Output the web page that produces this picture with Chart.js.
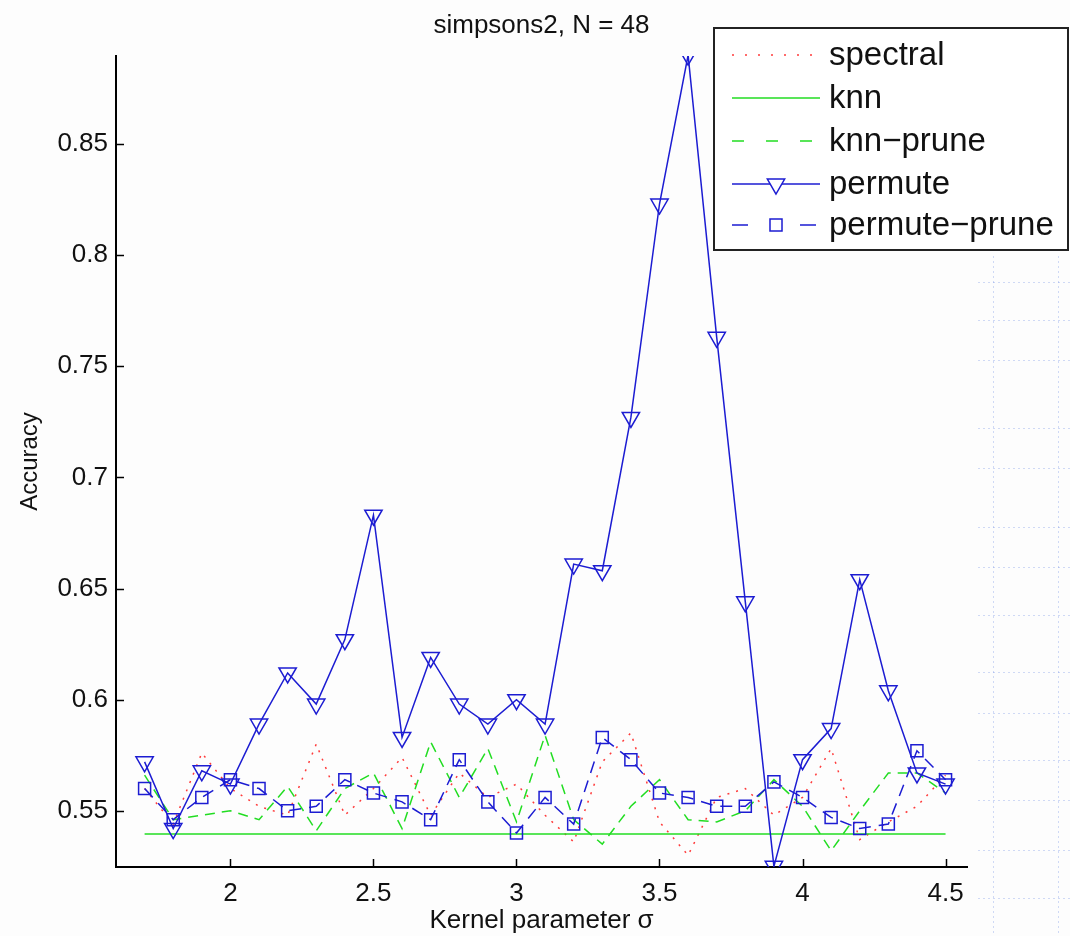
<!DOCTYPE html>
<html>
<head>
<meta charset="utf-8">
<script src="https://cdn.jsdelivr.net/npm/chart.js@4.4.1/dist/chart.umd.min.js"></script>
<style>
  html, body { margin: 0; padding: 0; background: #fdfdfd; }
  #wrap { width: 1070px; height: 936px; }
</style>
</head>
<body>
<div id="wrap"><canvas id="accChart" width="1070" height="936"></canvas></div>
<script>
// kernel parameter sigma values (x axis)
const sigmas = [1.7, 1.8, 1.9, 2.0, 2.1, 2.2, 2.3, 2.4, 2.5, 2.6, 2.7, 2.8, 2.9, 3.0, 3.1, 3.2, 3.3, 3.4, 3.5, 3.6, 3.7, 3.8, 3.9, 4.0, 4.1, 4.2, 4.3, 4.4, 4.5];

// accuracy per method
const spectral = [0.560, 0.544, 0.576, 0.560, 0.552, 0.548, 0.580, 0.548, 0.560, 0.574, 0.548, 0.567, 0.556, 0.562, 0.548, 0.536, 0.572, 0.585, 0.545, 0.530, 0.556, 0.560, 0.548, 0.556, 0.578, 0.537, 0.545, 0.552, 0.566];
const knn = [0.5395, 0.5395, 0.5395, 0.5395, 0.5395, 0.5395, 0.5395, 0.5395, 0.5395, 0.5395, 0.5395, 0.5395, 0.5395, 0.5395, 0.5395, 0.5395, 0.5395, 0.5395, 0.5395, 0.5395, 0.5395, 0.5395, 0.5395, 0.5395, 0.5395, 0.5395, 0.5395, 0.5395, 0.5395];
const knnPrune = [0.566, 0.546, 0.548, 0.550, 0.546, 0.561, 0.541, 0.560, 0.567, 0.542, 0.581, 0.556, 0.578, 0.545, 0.584, 0.546, 0.535, 0.552, 0.564, 0.546, 0.545, 0.550, 0.564, 0.552, 0.532, 0.550, 0.567, 0.567, 0.558];
const permute = [0.572, 0.542, 0.568, 0.562, 0.589, 0.612, 0.598, 0.627, 0.683, 0.583, 0.619, 0.598, 0.589, 0.600, 0.589, 0.661, 0.658, 0.727, 0.823, 0.890, 0.763, 0.644, 0.525, 0.573, 0.587, 0.654, 0.604, 0.567, 0.562];
const permutePrune = [0.560, 0.546, 0.556, 0.564, 0.560, 0.550, 0.552, 0.564, 0.558, 0.554, 0.546, 0.573, 0.554, 0.540, 0.556, 0.544, 0.583, 0.573, 0.558, 0.556, 0.552, 0.552, 0.563, 0.556, 0.547, 0.542, 0.544, 0.577, 0.564];

const xTicks = [2, 2.5, 3, 3.5, 4, 4.5];
const yTicks = [0.55, 0.6, 0.65, 0.7, 0.75, 0.8, 0.85];

const FONT = "'Liberation Sans', Arial, Helvetica, sans-serif";
const BLUE = '#1c1cd2';
const GREEN = '#22dd22';
const RED = '#ff3b3b';

const toPoints = (vals) => sigmas.map((s, i) => ({ x: s, y: vals[i] }));

// faint graph-paper lines from the slide behind the figure
const paper = {
  id: 'paper',
  beforeDraw(chart) {
    const ctx = chart.ctx;
    ctx.save();
    ctx.fillStyle = '#fdfdfd';
    ctx.fillRect(0, 0, chart.width, chart.height);
    ctx.strokeStyle = 'rgba(120,150,230,0.35)';
    ctx.lineWidth = 1;
    ctx.setLineDash([2, 3]);
    [993, 1058].forEach(x => {
      ctx.beginPath(); ctx.moveTo(x + 0.5, 256); ctx.lineTo(x + 0.5, 936); ctx.stroke();
    });
    [282, 320, 360, 428, 468, 527, 567, 615, 672, 713, 760, 800, 850, 898].forEach(y => {
      ctx.beginPath(); ctx.moveTo(978, y + 0.5); ctx.lineTo(1070, y + 0.5); ctx.stroke();
    });
    ctx.restore();
  }
};

// title centred over the axes, inward tick marks, legend box
const decor = {
  id: 'decor',
  afterDraw(chart) {
    const ctx = chart.ctx;
    const area = chart.chartArea;
    const xs = chart.scales.x, ys = chart.scales.y;
    ctx.save();

    ctx.fillStyle = '#111';
    ctx.font = '26px ' + FONT;
    ctx.textAlign = 'center';
    ctx.textBaseline = 'middle';
    ctx.fillText('simpsons2, N = 48', (area.left + area.right) / 2, 26);

    ctx.strokeStyle = '#000';
    ctx.lineWidth = 1.5;
    ctx.setLineDash([]);
    xTicks.forEach(v => {
      const px = Math.round(xs.getPixelForValue(v)) + 0.5;
      ctx.beginPath(); ctx.moveTo(px, area.bottom); ctx.lineTo(px, area.bottom - 8); ctx.stroke();
    });
    yTicks.forEach(v => {
      const py = Math.round(ys.getPixelForValue(v)) + 0.5;
      ctx.beginPath(); ctx.moveTo(area.left, py); ctx.lineTo(area.left + 8, py); ctx.stroke();
    });

    // legend
    const bx = 714, by = 28, bw = 354, bh = 222;
    ctx.fillStyle = '#ffffff';
    ctx.fillRect(bx, by, bw, bh);
    ctx.strokeStyle = '#222';
    ctx.lineWidth = 2;
    ctx.strokeRect(bx, by, bw, bh);
    const rowY = [55, 98, 141, 184, 225];
    ctx.font = '33px ' + FONT;
    ctx.textAlign = 'left';
    chart.data.datasets.forEach((ds, i) => {
      const y = rowY[i];
      ctx.strokeStyle = ds.borderColor;
      ctx.lineWidth = ds.borderWidth;
      ctx.setLineDash(ds.legendDash || []);
      ctx.beginPath(); ctx.moveTo(732, y); ctx.lineTo(820, y); ctx.stroke();
      ctx.setLineDash([]);
      if (ds.pointRadius > 0) {
        ctx.fillStyle = '#ffffff';
        ctx.strokeStyle = ds.pointBorderColor;
        ctx.lineWidth = ds.pointBorderWidth;
        Chart.helpers.drawPoint(ctx, {
          pointStyle: ds.pointStyle, rotation: ds.pointRotation || 0,
          radius: ds.pointRadius, borderWidth: ds.pointBorderWidth
        }, 776, y);
      }
      ctx.fillStyle = '#111';
      ctx.fillText(ds.label, 829, y + 1);
    });
    ctx.restore();
  }
};

new Chart(document.getElementById('accChart'), {
  type: 'line',
  data: {
    datasets: [
      {
        label: 'spectral', data: toPoints(spectral), order: 5,
        borderColor: RED, borderWidth: 1.5, borderDash: [2, 7], legendDash: [2, 11],
        pointRadius: 0
      },
      {
        label: 'knn', data: toPoints(knn), order: 4,
        borderColor: GREEN, borderWidth: 1.5, pointRadius: 0
      },
      {
        label: 'knn\u2212prune', data: toPoints(knnPrune), order: 3,
        borderColor: GREEN, borderWidth: 1.5, borderDash: [10, 7], legendDash: [12, 22],
        pointRadius: 0
      },
      {
        label: 'permute', data: toPoints(permute), order: 2,
        borderColor: BLUE, borderWidth: 1.5,
        pointStyle: 'triangle', pointRotation: 180, pointRadius: 10,
        pointBorderColor: BLUE, pointBackgroundColor: 'rgba(255,255,255,0)', pointBorderWidth: 1.5
      },
      {
        label: 'permute\u2212prune', data: toPoints(permutePrune), order: 1,
        borderColor: BLUE, borderWidth: 1.5, borderDash: [12, 8], legendDash: [16, 52],
        pointStyle: 'rect', pointRadius: 8.5,
        pointBorderColor: BLUE, pointBackgroundColor: 'rgba(255,255,255,0)', pointBorderWidth: 1.5
      }
    ]
  },
  options: {
    responsive: false,
    animation: false,
    devicePixelRatio: 1,
    layout: { padding: { left: 0, top: 56, right: 103, bottom: 0 } },
    plugins: { legend: { display: false }, tooltip: { enabled: false } },
    elements: { line: { tension: 0 } },
    scales: {
      x: {
        type: 'linear', min: 1.6, max: 4.575,
        afterBuildTicks: (s) => { s.ticks = xTicks.map(v => ({ value: v })); },
        afterFit: (s) => { s.height = 69; },
        ticks: { font: { size: 26, family: FONT }, color: '#111', padding: 11, maxRotation: 0, autoSkip: false, callback: (v) => String(v) },
        grid: { drawOnChartArea: false, drawTicks: false },
        border: { color: '#000', width: 2 },
        title: { display: true, text: 'Kernel parameter \u03c3', font: { size: 26, family: FONT }, color: '#111', padding: { top: 0, bottom: 0 } }
      },
      y: {
        min: 0.5247, max: 0.8896,
        afterBuildTicks: (s) => { s.ticks = yTicks.map(v => ({ value: v })); },
        afterFit: (s) => { s.width = 116; },
        ticks: { font: { size: 26, family: FONT }, color: '#111', padding: 8, callback: (v) => String(v) },
        grid: { drawOnChartArea: false, drawTicks: false },
        border: { color: '#000', width: 2 },
        title: { display: true, text: 'Accuracy', font: { size: 24, family: FONT }, color: '#111', padding: { top: 16, bottom: 0 } }
      }
    }
  },
  plugins: [paper, decor]
});
</script>
</body>
</html>
